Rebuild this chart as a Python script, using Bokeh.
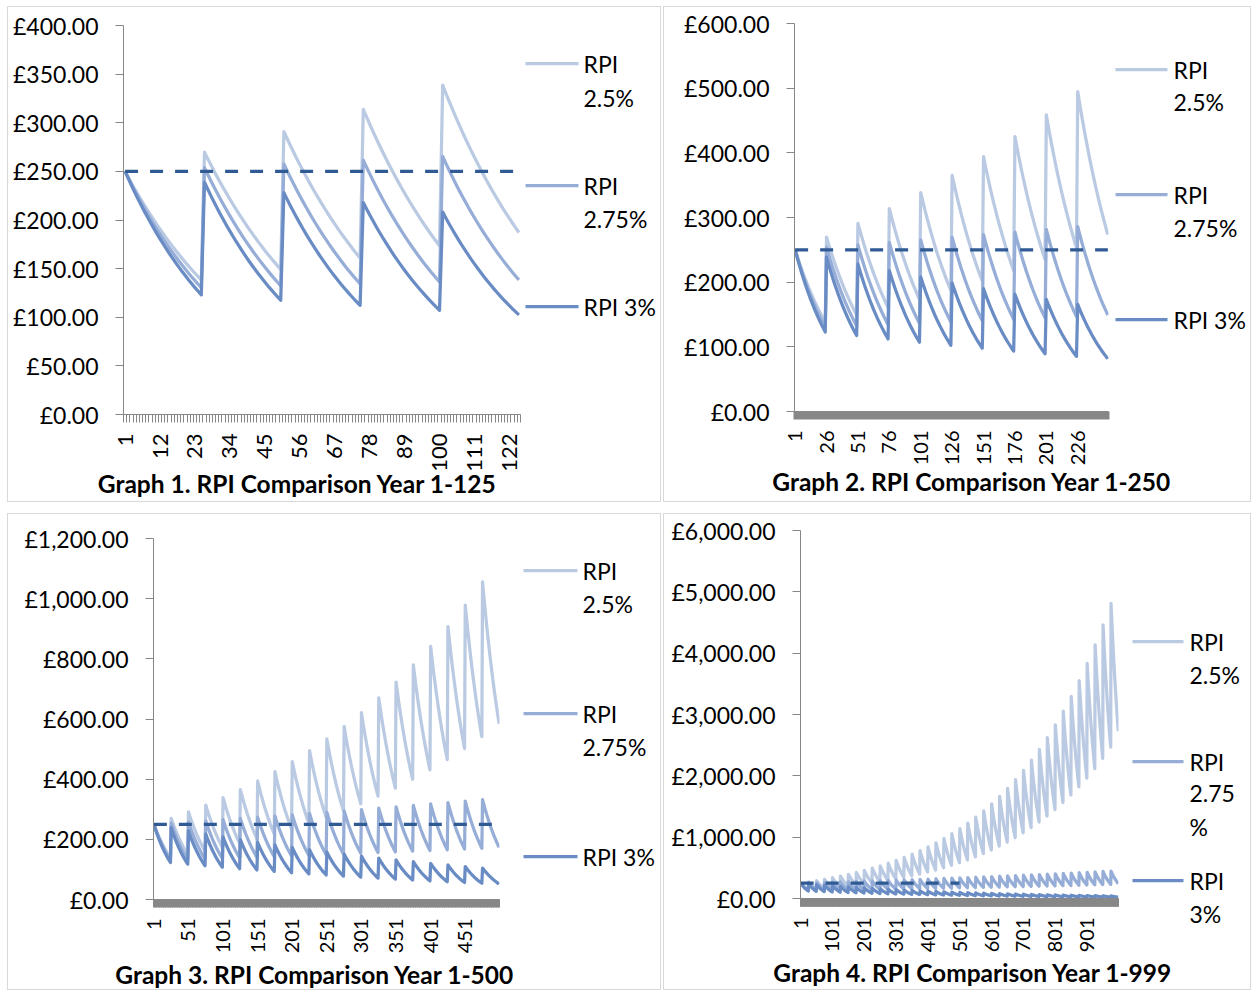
import math
import numpy as np
from bokeh.plotting import figure
from bokeh.models import Range1d, FixedTicker
from bokeh.layouts import row, column
from bokeh.core.properties import value
from bokeh.embed import file_html
from bokeh.resources import INLINE

# ---------------- data ----------------
ground_rent_year1 = 250.0        # £ ground rent in year 1
review_every_years = 25          # rent reviewed every 25 years
review_uplift = 2.0              # rent doubles at each review
rpi_rates = [0.025, 0.0275, 0.03]
series_labels = ["RPI 2.5%", "RPI 2.75%", "RPI 3%"]
flat_rent = 250.0                # dashed reference line
flat_rent_years = 500

graph_years = [125, 250, 500, 999]
graph_titles = [
    "Graph 1. RPI Comparison Year 1-125",
    "Graph 2. RPI Comparison Year 1-250",
    "Graph 3. RPI Comparison Year 1-500",
    "Graph 4. RPI Comparison Year 1-999",
]
y_ticks_1 = [0, 50, 100, 150, 200, 250, 300, 350, 400]
y_labels_1 = ["£0.00", "£50.00", "£100.00", "£150.00", "£200.00", "£250.00", "£300.00", "£350.00", "£400.00"]
y_ticks_2 = [0, 100, 200, 300, 400, 500, 600]
y_labels_2 = ["£0.00", "£100.00", "£200.00", "£300.00", "£400.00", "£500.00", "£600.00"]
y_ticks_3 = [0, 200, 400, 600, 800, 1000, 1200]
y_labels_3 = ["£0.00", "£200.00", "£400.00", "£600.00", "£800.00", "£1,000.00", "£1,200.00"]
y_ticks_4 = [0, 1000, 2000, 3000, 4000, 5000, 6000]
y_labels_4 = ["£0.00", "£1,000.00", "£2,000.00", "£3,000.00", "£4,000.00", "£5,000.00", "£6,000.00"]
x_ticks_1 = [1, 12, 23, 34, 45, 56, 67, 78, 89, 100, 111, 122]
x_ticks_2 = [1, 26, 51, 76, 101, 126, 151, 176, 201, 226]
x_ticks_3 = [1, 51, 101, 151, 201, 251, 301, 351, 401, 451]
x_ticks_4 = [1, 101, 201, 301, 401, 501, 601, 701, 801, 901]
legend_text_1 = [["RPI", "2.5%"], ["RPI", "2.75%"], ["RPI 3%"]]
legend_text_2 = [["RPI", "2.5%"], ["RPI", "2.75%"], ["RPI 3%"]]
legend_text_3 = [["RPI", "2.5%"], ["RPI", "2.75%"], ["RPI 3%"]]
legend_text_4 = [["RPI", "2.5%"], ["RPI", "2.75", "%"], ["RPI", "3%"]]

all_years = np.arange(1, max(graph_years) + 1)
nominal_rent = ground_rent_year1 * review_uplift ** ((all_years - 1) // review_every_years)
real_values = [nominal_rent / (1.0 + r) ** (all_years - 1) for r in rpi_rates]

# ---------------- style ----------------
FONT = "Lato"
FS = "23px"
TITLE_FS = "24.5px"
AXIS_GREY = "#878787"
series_colors = ["#BACAE3", "#96AED7", "#6A8CC5"]
flat_color = "#2F5A93"
LW = 3.25
AXIS_ROOM = 72   # room below the frame for the x axis (ticks + rotated labels)

# page-pixel geometry of each panel (inner box of the bordered panel)
panels = [
    dict(n=125, yt=y_ticks_1, yl=y_labels_1, xt=x_ticks_1, ymax=400, leg=legend_text_1,
         px0=8, px1=660, py0=7, py1=501, split_x=522,
         fl=123, ft=25, fb=414, xfs="22px", tickw=1, title_c=(297, 483),
         lx0=525, lx1=578, tx=583, ys=[[63, 97], [185, 218], [306]]),
    dict(n=250, yt=y_ticks_2, yl=y_labels_2, xt=x_ticks_2, ymax=600, leg=legend_text_2,
         px0=664, px1=1250, py0=7, py1=501, split_x=1110,
         fl=794, ft=23, fb=411, xfs="20px", tickw=2, title_c=(971.5, 481),
         lx0=1115, lx1=1167, tx=1173, ys=[[69, 101], [194, 227], [319]]),
    dict(n=500, yt=y_ticks_3, yl=y_labels_3, xt=x_ticks_3, ymax=1200, leg=legend_text_3,
         px0=8, px1=660, py0=514, py1=989, split_x=501,
         fl=153, ft=538, fb=899, xfs="20px", tickw=1, title_c=(314.5, 974),
         lx0=523, lx1=577, tx=582, ys=[[570, 603], [713, 746], [856]]),
    dict(n=999, yt=y_ticks_4, yl=y_labels_4, xt=x_ticks_4, ymax=6000, leg=legend_text_4,
         px0=664, px1=1250, py0=514, py1=989, split_x=1120,
         fl=800, ft=530, fb=898, xfs="20px", tickw=1, title_c=(972.5, 972),
         lx0=1132, lx1=1183, tx=1189, ys=[[641, 674], [761, 793, 826], [880, 913]]),
]


def no_align(f):
    if "frame_align" in f.properties():
        f.frame_align = False


def blank_fig(x0, x1, y0, y1, fill="white", **kw):
    f = figure(width=int(round(x1 - x0)), height=int(round(y1 - y0)), output_backend="svg",
               toolbar_location=None, x_range=Range1d(x0, x1), y_range=Range1d(y1, y0),
               x_axis_location=None, y_axis_location=None, min_border=0, **kw)
    f.grid.visible = False
    f.outline_line_color = None
    f.border_fill_color = fill
    f.background_fill_color = fill
    no_align(f)
    return f


def make_chart(s, bottom):
    n = s["n"]
    w = s["split_x"] - s["px0"]
    h = bottom - s["py0"]
    p = figure(width=w, height=h, output_backend="svg", toolbar_location=None,
               x_range=Range1d(0.5, n + 0.5), y_range=Range1d(0, s["ymax"]),
               min_border_left=s["fl"] - s["px0"], min_border_right=2,
               min_border_top=s["ft"] - s["py0"], min_border_bottom=bottom - s["fb"])
    no_align(p)
    p.grid.visible = False
    p.outline_line_color = None
    p.background_fill_color = "white"
    p.border_fill_color = "white"

    yrs = all_years[:n]
    for vals, col in zip(real_values, series_colors):
        p.line(yrs, vals[:n], line_color=col, line_width=LW, line_join="round")
    m = min(n, flat_rent_years)
    p.line(all_years[:m], np.full(m, flat_rent), line_color=flat_color, line_width=LW,
           line_dash="13 12")

    ya = p.yaxis[0]
    ya.ticker = FixedTicker(ticks=s["yt"])
    ya.major_label_overrides = {t: l for t, l in zip(s["yt"], s["yl"])}
    ya.major_tick_out = 8
    ya.major_tick_in = 0
    ya.minor_tick_line_color = None
    ya.major_label_standoff = 17
    ya.axis_line_color = AXIS_GREY
    ya.major_tick_line_color = AXIS_GREY
    ya.major_label_text_font = FONT
    ya.major_label_text_font_size = FS
    ya.major_label_text_color = "black"

    xa = p.xaxis[0]
    xa.ticker = FixedTicker(ticks=s["xt"], minor_ticks=[k + 0.5 for k in range(n + 1)])
    xa.major_tick_out = 0
    xa.major_tick_in = 0
    xa.major_tick_line_color = None
    xa.minor_tick_out = 8
    xa.minor_tick_in = 0
    xa.minor_tick_line_color = AXIS_GREY
    xa.minor_tick_line_width = s["tickw"]
    xa.axis_line_color = AXIS_GREY
    xa.major_label_orientation = math.pi / 2
    xa.major_label_standoff = 11
    xa.major_label_text_font = FONT
    xa.major_label_text_font_size = s["xfs"]
    xa.major_label_text_color = "black"
    return p


def make_legend(s, bottom):
    lg = blank_fig(s["split_x"], s["px1"], s["py0"], bottom)
    for lines, ys, col in zip(s["leg"], s["ys"], series_colors):
        lg.line([s["lx0"], s["lx1"]], [ys[0], ys[0]], line_color=col, line_width=LW)
        lg.text([s["tx"]] * len(lines), ys, text=lines, text_font=value(FONT),
                text_font_size=FS, text_baseline="middle", text_align="left",
                text_color="black")
    return lg


def make_title(i, s, bottom):
    cx, cy = s["title_c"]
    top = cy - 20
    # transparent strip, pulled up so it overlaps the empty bottom edge of the chart
    t = blank_fig(s["px0"], s["px1"], top, s["py1"], fill=None,
                  margin=(int(top - bottom), 0, 0, 0))
    t.text([cx], [cy], text=[graph_titles[i]], text_font=value(FONT), text_font_size=TITLE_FS,
           text_font_style="bold", text_align="center", text_baseline="middle",
           text_color="black")
    return t


cells = []
for i, s in enumerate(panels):
    bottom = s["fb"] + AXIS_ROOM
    cells.append(column(row(make_chart(s, bottom), make_legend(s, bottom)),
                        make_title(i, s, bottom),
                        styles={"border": "1px solid #d9d9d9"}))

layout = column(row(cells[0], cells[1], spacing=2),
                row(cells[2], cells[3], spacing=2),
                spacing=11, margin=(6, 0, 0, 7))

open("out.html", "w").write(file_html(layout, INLINE))
